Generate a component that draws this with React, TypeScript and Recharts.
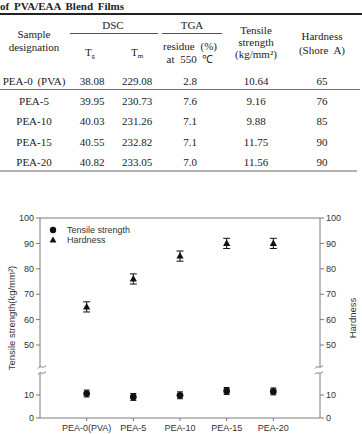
import React from 'react';
import { ComposedChart, Scatter, XAxis, YAxis, ErrorBar, ReferenceLine, Legend } from 'recharts';

// Table / chart data
const tableNames = ['PEA-0 (PVA)', 'PEA-5', 'PEA-10', 'PEA-15', 'PEA-20'];
const axisNames = ['PEA-0(PVA)', 'PEA-5', 'PEA-10', 'PEA-15', 'PEA-20'];
const glassTemp = [38.08, 39.95, 40.03, 40.55, 40.82];
const meltTemp = [229.08, 230.73, 231.26, 232.82, 233.05];
const residue = [2.8, 7.6, 7.1, 7.1, 7.0];
const tensileStrength = [10.64, 9.16, 9.88, 11.75, 11.56];
const hardness = [65, 76, 85, 90, 90];
const tensileError = [1.5, 1.5, 1.5, 1.5, 1.5];
const hardnessError = [2, 2, 2, 2, 2];
const yTickValues = [0, 10, 50, 60, 70, 80, 90, 100];
const xTickValues = [1, 2, 3, 4, 5];

// Broken value axis: one linear piece below the break (0..~19),
// another above it (~41..100). Axis units are pixels of plot height.
const LOWER_SCALE = 2.3;
const UPPER_SCALE = 2.54;
const UPPER_BASE = 73; // axis position of the value 50
const toAxis = (v: number) => (v < 30 ? v * LOWER_SCALE : UPPER_BASE + (v - 50) * UPPER_SCALE);
const fromAxis = (a: number) => (a < 50 ? a / LOWER_SCALE : 50 + (a - UPPER_BASE) / UPPER_SCALE);
const AXIS_MAX = toAxis(100);
const yTicks = yTickValues.map(toAxis);

const errRange = (v: number, e: number) => [toAxis(v) - toAxis(v - e), toAxis(v + e) - toAxis(v)];

const chartData = axisNames.map((name, i) => ({
  x: i + 1,
  name,
  ts: toAxis(tensileStrength[i]),
  tsErr: errRange(tensileStrength[i], tensileError[i]),
  hd: toAxis(hardness[i]),
  hdErr: errRange(hardness[i], hardnessError[i]),
}));

const SANS = '"Liberation Sans", Arial, sans-serif';
const SERIF = '"Liberation Serif", "Times New Roman", serif';
const AXIS_COLOR = '#7a7a7a';
const TEXT_COLOR = '#333';

const DotShape = (p: any) => <circle cx={p.cx} cy={p.cy} r={3.4} fill="#111" />;
const TriShape = (p: any) => (
  <path
    d={`M${p.cx},${p.cy - 3.9}L${p.cx + 3.6},${p.cy + 2.5}L${p.cx - 3.6},${p.cy + 2.5}Z`}
    fill="#111"
  />
);

const fmtTick = (a: number) => String(Math.round(fromAxis(a)));

const LegendBox = () => (
  <div style={{ fontFamily: SANS, fontSize: 9, color: TEXT_COLOR, lineHeight: '10px' }}>
    <div style={{ display: 'flex', alignItems: 'center', height: 10 }}>
      <svg width={10} height={10} style={{ marginRight: 9 }}>
        <circle cx={5} cy={5} r={3.2} fill="#111" />
      </svg>
      <span>Tensile strength</span>
    </div>
    <div style={{ display: 'flex', alignItems: 'center', height: 10 }}>
      <svg width={10} height={10} style={{ marginRight: 9 }}>
        <path d="M5,1.4L8.4,7.6L1.6,7.6Z" fill="#111" />
      </svg>
      <span>Hardness</span>
    </div>
  </div>
);

function PropertyTable() {
  const rowBase = [85, 104.5, 125, 146, 166];
  const col = { name: 34, tg: 92, tm: 137, res: 190, ts: 256, hd: 322 };
  return (
    <svg width={362} height={180} style={{ position: 'absolute', left: 0, top: 0 }}>
      <g fontFamily={SERIF} fontSize={11} fill="#222">
        <text x={0} y={10} fontWeight="bold" wordSpacing={2}>
          of PVA/EAA Blend Films
        </text>
        <line x1={0} x2={362} y1={14} y2={14} stroke="#222" strokeWidth={2} />

        <text x={113} y={29} textAnchor="middle">DSC</text>
        <text x={192} y={29} textAnchor="middle">TGA</text>
        <line x1={70} x2={158} y1={33.5} y2={33.5} stroke="#555" strokeWidth={1} />
        <line x1={162} x2={222} y1={33.5} y2={33.5} stroke="#555" strokeWidth={1} />

        <text x={col.name} y={38} textAnchor="middle">Sample</text>
        <text x={col.name} y={51} textAnchor="middle">designation</text>
        <text x={90} y={56} textAnchor="middle">
          T<tspan fontSize={7} dy={2}>g</tspan>
        </text>
        <text x={137} y={56} textAnchor="middle">
          T<tspan fontSize={7} dy={2}>m</tspan>
        </text>
        <text x={col.res} y={50} textAnchor="middle" wordSpacing={3}>residue (%)</text>
        <text x={col.res} y={63} textAnchor="middle" wordSpacing={3}>at 550 ℃</text>
        <text x={col.ts} y={34} textAnchor="middle">Tensile</text>
        <text x={col.ts} y={45.5} textAnchor="middle">strength</text>
        <text x={col.ts} y={58} textAnchor="middle">(kg/mm²)</text>
        <text x={col.hd} y={40} textAnchor="middle">Hardness</text>
        <text x={col.hd} y={54} textAnchor="middle" wordSpacing={3}>(Shore A)</text>

        <line x1={0} x2={360} y1={89.5} y2={89.5} stroke="#777" strokeWidth={1} />
        <line x1={0} x2={357} y1={171} y2={171} stroke="#666" strokeWidth={1.2} />

        {tableNames.map((n, i) => (
          <g key={n}>
            <text x={col.name} y={rowBase[i]} textAnchor="middle" wordSpacing={2}>{n}</text>
            <text x={col.tg} y={rowBase[i]} textAnchor="middle">{glassTemp[i].toFixed(2)}</text>
            <text x={col.tm} y={rowBase[i]} textAnchor="middle">{meltTemp[i].toFixed(2)}</text>
            <text x={col.res} y={rowBase[i]} textAnchor="middle">{residue[i].toFixed(1)}</text>
            <text x={col.ts} y={rowBase[i]} textAnchor="middle">{tensileStrength[i].toFixed(2)}</text>
            <text x={col.hd} y={rowBase[i]} textAnchor="middle">{hardness[i]}</text>
          </g>
        ))}
      </g>
    </svg>
  );
}

// Axis-break marks drawn over both value axes
function BreakMarks() {
  const yUp = 167;
  const yDn = 173;
  const squiggle = (x0: number, y: number) =>
    `M${x0},${y + 1.5} C${x0 + 2.5},${y - 2.5} ${x0 + 4.5},${y + 2.5} ${x0 + 8},${y - 1.5}`;
  return (
    <svg width={362} height={234} style={{ position: 'absolute', left: 0, top: 200, pointerEvents: 'none' }}>
      <rect x={38} y={yUp} width={4} height={yDn - yUp} fill="#fff" />
      <rect x={318} y={yUp} width={4} height={yDn - yUp} fill="#fff" />
      <g stroke={AXIS_COLOR} strokeWidth={1} fill="none">
        <path d={squiggle(38, yUp)} />
        <path d={squiggle(38, yDn)} />
        <path d={squiggle(315, yUp)} />
        <path d={squiggle(315, yDn)} />
      </g>
    </svg>
  );
}

export default function App() {
  const tickStyle = { fill: TEXT_COLOR, fontSize: 9, fontFamily: SANS };
  return (
    <div style={{ position: 'absolute', left: 0, top: 0, width: 362, height: 434, background: '#fff', overflow: 'hidden' }}>
      <PropertyTable />
      <div style={{ position: 'absolute', left: 0, top: 200 }}>
        <ComposedChart width={362} height={234} data={chartData} margin={{ top: 18, right: 0, bottom: 0, left: 0 }}>
          <XAxis
            type="number"
            dataKey="x"
            domain={[0, 6]}
            ticks={xTickValues}
            interval={0}
            tickFormatter={(v: number) => axisNames[v - 1]}
            height={16}
            tickSize={3}
            tickMargin={4}
            stroke={AXIS_COLOR}
            tick={tickStyle}
          />
          <YAxis
            yAxisId="left"
            type="number"
            domain={[0, AXIS_MAX]}
            allowDataOverflow
            ticks={yTicks}
            interval={0}
            tickFormatter={fmtTick}
            width={40}
            tickSize={4}
            tickMargin={2}
            stroke={AXIS_COLOR}
            tick={tickStyle}
            label={{
              value: 'Tensile strength(kg/mm²)',
              angle: -90,
              position: 'insideLeft',
              offset: 12,
              style: { textAnchor: 'middle', fontFamily: SANS, fontSize: 9.5, fill: TEXT_COLOR },
            }}
          />
          <YAxis
            yAxisId="right"
            orientation="right"
            type="number"
            domain={[0, AXIS_MAX]}
            allowDataOverflow
            ticks={yTicks}
            interval={0}
            tickFormatter={fmtTick}
            width={42}
            tickSize={4}
            tickMargin={2}
            stroke={AXIS_COLOR}
            tick={tickStyle}
            label={{
              value: 'Hardness',
              angle: -90,
              position: 'insideRight',
              offset: 9,
              style: { textAnchor: 'middle', fontFamily: SANS, fontSize: 9.5, fill: TEXT_COLOR },
            }}
          />
          <ReferenceLine yAxisId="left" y={AXIS_MAX} stroke={AXIS_COLOR} ifOverflow="visible" />
          <Scatter yAxisId="left" name="Tensile strength" dataKey="ts" shape={DotShape} isAnimationActive={false}>
            <ErrorBar dataKey="tsErr" direction="y" width={3} stroke="#111" strokeWidth={1} />
          </Scatter>
          <Scatter yAxisId="left" name="Hardness" dataKey="hd" shape={TriShape} isAnimationActive={false}>
            <ErrorBar dataKey="hdErr" direction="y" width={3.5} stroke="#111" strokeWidth={1} />
          </Scatter>
          <Legend
            layout="vertical"
            verticalAlign="middle"
            align="center"
            content={LegendBox}
            wrapperStyle={{ left: 48, top: 25, width: 'auto' }}
          />
        </ComposedChart>
      </div>
      <BreakMarks />
    </div>
  );
}
